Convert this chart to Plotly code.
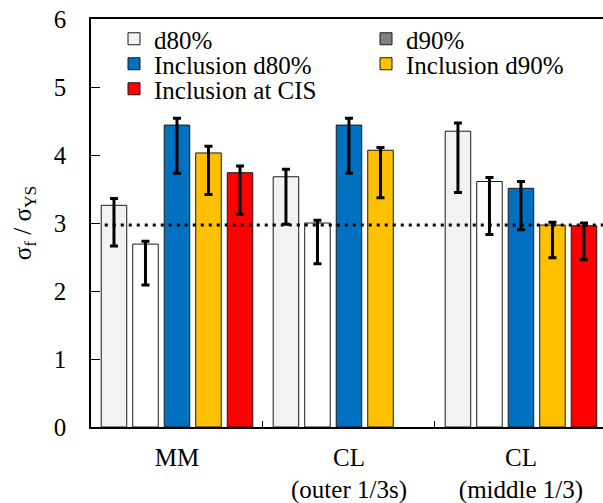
import plotly.graph_objects as go

categories = ["MM", "CL<br>(outer 1/3s)", "CL<br>(middle 1/3)"]

series_names = ["d80%", "d90%", "Inclusion d80%", "Inclusion d90%", "Inclusion at CIS"]
bar_colors = ["#f2f2f2", "#ffffff", "#0070c0", "#ffc000", "#ff0000"]
legend_colors = ["#f2f2f2", "#808080", "#0070c0", "#ffc000", "#ff0000"]
legend_ids = ["legend", "legend2", "legend3", "legend4", "legend5"]

d80 = [3.26, 3.68, 4.35]
d90 = [2.69, 3.00, 3.61]
inc_d80 = [4.44, 4.44, 3.51]
inc_d90 = [4.03, 4.07, 2.97]
inc_cis = [3.74, None, 2.96]

d80_hi = [3.36, 3.79, 4.47]
d80_lo = [2.66, 2.98, 3.45]
d90_hi = [2.73, 3.04, 3.67]
d90_lo = [2.09, 2.40, 2.83]
inc_d80_hi = [4.54, 4.54, 3.61]
inc_d80_lo = [3.73, 3.73, 2.90]
inc_d90_hi = [4.13, 4.11, 3.01]
inc_d90_lo = [3.42, 3.37, 2.49]
inc_cis_hi = [3.84, None, 3.00]
inc_cis_lo = [3.13, None, 2.46]

reference_level = 2.97

values = [d80, d90, inc_d80, inc_d90, inc_cis]
highs = [d80_hi, d90_hi, inc_d80_hi, inc_d90_hi, inc_cis_hi]
lows = [d80_lo, d90_lo, inc_d80_lo, inc_d90_lo, inc_cis_lo]

FONT = "Liberation Serif"
FS = 25

fig = go.Figure()
for i, name in enumerate(series_names):
    v = values[i]
    up = [None if (h is None or y is None) else h - y for h, y in zip(highs[i], v)]
    dn = [None if (l is None or y is None) else y - l for l, y in zip(lows[i], v)]
    same = bar_colors[i] == legend_colors[i]
    fig.add_trace(go.Bar(
        x=categories, y=v, name=name,
        marker=dict(color=bar_colors[i], line=dict(color="#1a1a1a", width=1)),
        error_y=dict(type="data", symmetric=False, array=up, arrayminus=dn,
                     color="black", thickness=3, width=4),
        offsetgroup=str(i),
        showlegend=same,
        legend=legend_ids[i],
    ))
    if not same:
        fig.add_trace(go.Bar(
            x=[categories[0]], y=[None], name=name,
            marker=dict(color=legend_colors[i], line=dict(color="#1a1a1a", width=1)),
            offsetgroup=str(i), showlegend=True, legend=legend_ids[i],
        ))

fig.add_shape(type="line", xref="x", yref="y", x0=-0.42, x1=2.477,
              y0=reference_level, y1=reference_level,
              line=dict(color="black", width=3, dash="3px,5px"))

leg_common = dict(orientation="h", xanchor="left", yanchor="middle",
                  bgcolor="rgba(0,0,0,0)",
                  font=dict(family=FONT, size=FS, color="black"))

col_x = [(114 - 91) / 512, (366 - 91) / 512]
row_y = [(427 - 39) / 408, (427 - 64) / 408, (427 - 89) / 408]
legend_pos = [(0, 0), (1, 0), (0, 1), (1, 1), (0, 2)]
legends = {}
for lid, (c, r) in zip(legend_ids, legend_pos):
    legends[lid] = dict(x=col_x[c], y=row_y[r], **leg_common)

fig.update_layout(
    width=603, height=503,
    margin=dict(l=91, r=0, t=19, b=76, autoexpand=False),
    paper_bgcolor="white", plot_bgcolor="white",
    barmode="group", bargap=0.084, bargroupgap=0.19,
    font=dict(family=FONT, size=FS, color="black"),
    xaxis=dict(range=[-0.5, 2.477], showline=True, linecolor="black", linewidth=1.5,
               mirror=True, ticks="inside", ticklen=6, tickson="boundaries",
               tickcolor="black", showgrid=False, ticklabelstandoff=7,
               automargin=False,
               tickfont=dict(family=FONT, size=FS, color="black")),
    yaxis=dict(range=[0, 6], dtick=1, showline=True, linecolor="black", linewidth=1.5,
               mirror=False, ticks="inside", ticklen=9, tickcolor="black",
               showgrid=False, zeroline=False, ticklabelstandoff=18,
               automargin=False,
               tickfont=dict(family=FONT, size=FS, color="black"),
               title=dict(text="σ<sub>f</sub> / σ<sub>YS</sub>",
                          font=dict(family=FONT, size=FS, color="black"))),
    **legends,
)

fig.write_html("out.html")
